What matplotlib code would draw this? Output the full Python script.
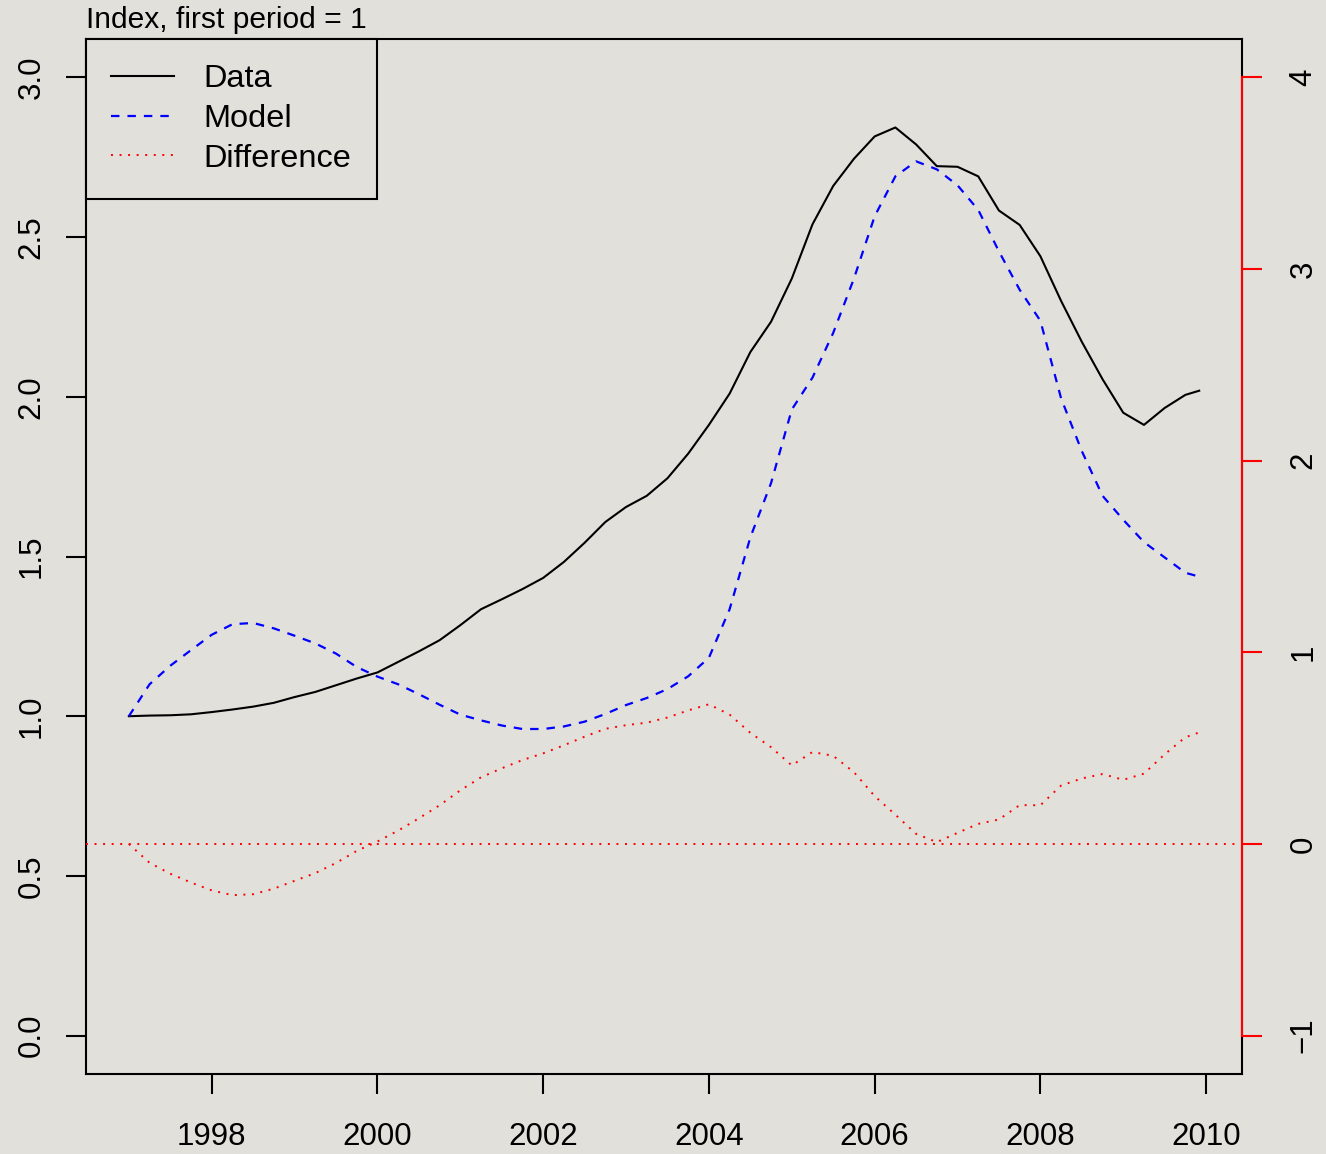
import numpy as np
import matplotlib
matplotlib.use('Agg')
import matplotlib.pyplot as plt

plt.rcParams['font.family'] = ['Liberation Sans', 'DejaVu Sans']

# quarterly index values, last point is Dec 2009
dates = np.r_[np.arange(1997, 2010, 0.25), 2009 + 11/12]
data = [1.000, 1.002, 1.003, 1.006,
        1.013, 1.021, 1.030, 1.042,
        1.060, 1.076, 1.097, 1.118,
        1.137, 1.170, 1.203, 1.238,
        1.285, 1.335, 1.366, 1.398,
        1.433, 1.483, 1.543, 1.608,
        1.655, 1.690, 1.745, 1.822,
        1.912, 2.010, 2.140, 2.235,
        2.370, 2.540, 2.660, 2.745,
        2.815, 2.843, 2.790, 2.722,
        2.720, 2.690, 2.583, 2.538,
        2.440, 2.300, 2.172, 2.055,
        1.950, 1.912, 1.965, 2.006,
        2.019]
model = [1.000, 1.100, 1.158, 1.207,
         1.255, 1.288, 1.292, 1.275,
         1.252, 1.228, 1.196, 1.154,
         1.124, 1.100, 1.069, 1.036,
         1.005, 0.987, 0.971, 0.960,
         0.960, 0.968, 0.983, 1.007,
         1.035, 1.057, 1.085, 1.125,
         1.183, 1.335, 1.560, 1.730,
         1.960, 2.060, 2.200, 2.370,
         2.565, 2.690, 2.737, 2.712,
         2.662, 2.585, 2.455, 2.335,
         2.238, 1.995, 1.830, 1.690,
         1.615, 1.545, 1.497, 1.449,
         1.437]
diff = np.array(data) - np.array(model)

xticks = [1998, 2000, 2002, 2004, 2006, 2008, 2010]
lticks = [0.0, 0.5, 1.0, 1.5, 2.0, 2.5, 3.0]
rticks = [-1, 0, 1, 2, 3, 4]

BG = '#e2e0db'
W, H = 1326, 1154
fig = plt.figure(figsize=(W/100, H/100), dpi=100, facecolor=BG)
ax = fig.add_axes([86/W, 1 - 1074/H, (1242-86)/W, (1074-39)/H])
ax.set_facecolor('none')

l1, = ax.plot(dates, data, color='black', lw=1.5, label='Data')
l2, = ax.plot(dates, model, color='blue', lw=1.6, ls=(0, (3.8, 3.6)), label='Model')
ax.set_xlim(1996.483, 2010.433)
ax.set_ylim(-0.12, 3.12)
ax.set_xticks(xticks)
ax.set_yticks(lticks)
ax.set_yticklabels([f'{v:.1f}' for v in lticks])
for s in ax.spines.values():
    s.set_linewidth(1.5)
ax.tick_params(direction='out', length=14.4, width=1.5, labelsize=22.5)
ax.tick_params(axis='x', pad=20)
ax.tick_params(axis='y', pad=14, labelrotation=90)
for lab in ax.get_yticklabels():
    lab.set_va('center')

# difference on its own scale, red axis on the right
ax2 = ax.twinx()
ax2.set_facecolor('none')
l3, = ax2.plot(dates, diff, color='red', lw=1.4, ls=(0, (1, 3.4)), label='Difference')
ax2.axhline(0, color='red', lw=1.4, ls=(0, (1, 3.4)))
ax2.set_ylim(-1.2, 4.2)
ax2.set_yticks(rticks)
for k in ['left', 'top', 'bottom']:
    ax2.spines[k].set_visible(False)
ax2.spines['right'].set_color('red')
ax2.spines['right'].set_linewidth(1.5)
ax2.spines['right'].set_bounds(-1, 4)
ax2.tick_params(axis='y', direction='out', length=14.4, width=1.5, color='red',
                labelcolor='black', labelsize=22.5, pad=19, labelrotation=90)
for lab in ax2.get_yticklabels():
    lab.set_va('center')

leg = ax2.legend(handles=[l1, l2, l3], loc='upper left', bbox_to_anchor=(0, 1),
                 borderaxespad=0, fontsize=23.4, fancybox=False, framealpha=1,
                 facecolor=BG, edgecolor='black', handlelength=1.94,
                 handletextpad=0.9, borderpad=0.78, labelspacing=0.3)
leg.get_frame().set_linewidth(1.5)

ax.annotate('Index, first period = 1', xy=(0, 1), xycoords='axes fraction',
            xytext=(0, 7.9), textcoords='offset points', va='baseline',
            ha='left', fontsize=21.6)

fig.savefig('out.png', dpi=100, facecolor=BG)
